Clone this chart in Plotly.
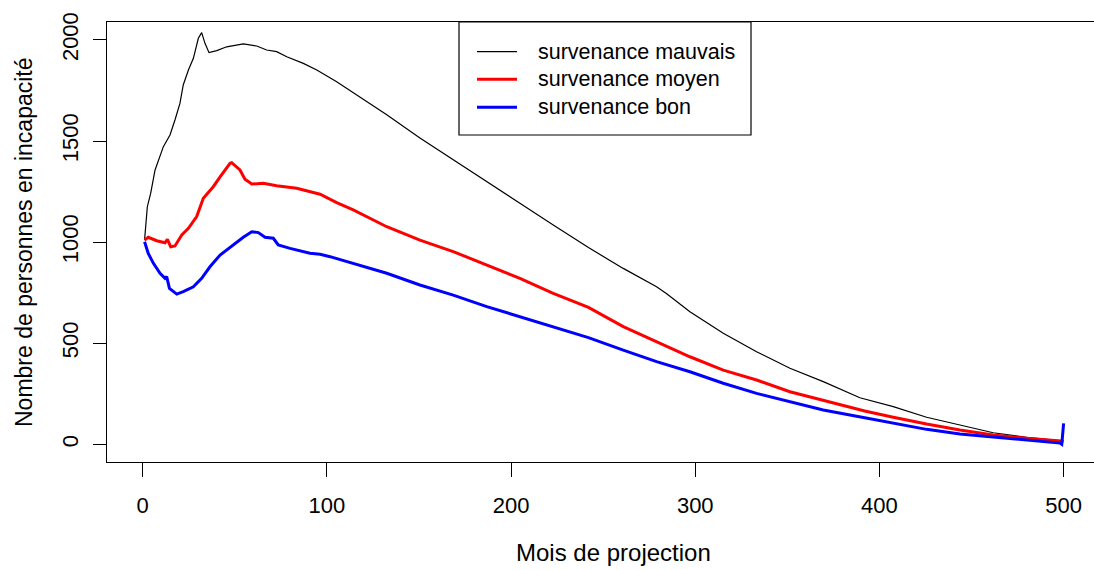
import plotly.graph_objects as go

# ---- data (month, number of people) ----
mois_mauvais = [1, 2.5, 4.3, 6.7, 11.2, 14.8, 17.5, 20.2, 22, 24.8, 27.5, 30.2, 32, 33.8, 36,
                40.2, 45.6, 54.6, 61.9, 67.3, 72.7, 78.2, 87.2, 94.5, 105.3, 114.3, 132.5,
                150.5, 168.6, 186.8, 204.8, 222.9, 242, 260.9, 279, 284.5, 297.1, 315.2,
                333.3, 351.4, 369.5, 389.4, 407.5, 425.6, 443.7, 461.8, 479.9, 498, 500]
val_mauvais = [1010, 1175, 1241, 1357, 1472, 1530, 1604, 1686, 1777, 1851, 1909, 2008, 2036, 1983, 1937,
               1947, 1966, 1980, 1970, 1950, 1942, 1917, 1884, 1851, 1793, 1740, 1630,
               1515, 1406, 1299, 1192, 1085, 973, 870, 779, 745, 656, 549,
               458, 376, 310, 230, 186, 134, 95, 57, 35, 18, 20]

mois_moyen = [1, 3, 7.6, 12.1, 13.4, 15.2, 17.5, 21.2, 24.8, 29.3, 32.9, 38.3, 42, 47.4, 48.3,
              52.8, 55.5, 59.2, 65.5, 72.7, 83.6, 90.8, 96.3, 105.3, 114.3, 132.5, 150.5,
              168.6, 186.8, 204.8, 222.9, 242, 260.9, 279, 297.1, 315.2, 333.3, 351.4,
              369.5, 392, 407.5, 425.6, 443.7, 461.8, 479.9, 498, 500]
val_moyen = [1010, 1024, 1007, 997, 1014, 977, 981, 1035, 1068, 1126, 1217, 1274, 1323, 1390, 1393,
             1357, 1311, 1287, 1291, 1279, 1266, 1249, 1237, 1195, 1159, 1076, 1010,
             953, 887, 821, 747, 677, 582, 507, 433, 367, 318, 260,
             216, 165, 134, 100, 71, 46, 30, 18, 15]

mois_bon = [1, 3, 5.8, 9.4, 12.1, 13, 14.5, 18.5, 22, 27.5, 32, 36.5, 42, 47.4, 54.6, 59.2,
            62.8, 66.4, 70.9, 73.6, 80, 90.8, 96.3, 101.7, 114.3, 132.5, 150.5, 168.6,
            186.8, 204.8, 222.9, 242, 260.9, 279, 297.1, 315.2, 333.3, 351.4, 369.5,
            392, 407.5, 425.6, 443.7, 461.8, 479.9, 498, 499, 500]
val_bon = [1002, 944, 895, 846, 821, 829, 771, 743, 755, 779, 821, 878, 936, 974, 1024, 1051,
           1047, 1024, 1019, 986, 969, 945, 940, 928, 895, 846, 788, 738,
           681, 631, 582, 528, 466, 409, 359, 302, 252, 211, 170,
           131, 104, 74, 51, 35, 21, 6, 0, 104]

series_names = ["survenance mauvais", "survenance moyen", "survenance bon"]
series_colors = ["black", "red", "blue"]
series_widths = [1.2, 3, 3]

x_ticks = [0, 100, 200, 300, 400, 500]
y_ticks = [0, 500, 1000, 1500, 2000]

FONT = "Liberation Sans, Arial, sans-serif"

# ---- geometry (pixels) ----
W, H = 1094, 570
L, T, R, B = 107, 22, 0, 108
px0, px1 = L, W - R
py0, py1 = T, H - B


def pxx(p):
    return (p - px0) / (px1 - px0)


def pyy(p):
    return (py1 - p) / (py1 - py0)


fig = go.Figure()
for xs, ys, name, col, w in zip([mois_mauvais, mois_moyen, mois_bon],
                                [val_mauvais, val_moyen, val_bon],
                                series_names, series_colors, series_widths):
    fig.add_trace(go.Scatter(x=xs, y=ys, mode="lines", name=name,
                             line=dict(color=col, width=w), showlegend=False,
                             hoverinfo="x+y"))

# manual legend (R style box)
shapes = [dict(type="rect", xref="paper", yref="paper",
               x0=pxx(459), x1=pxx(751), y0=pyy(135), y1=pyy(22),
               line=dict(color="black", width=1.2), fillcolor="white", layer="above")]
annotations = []
row_y = [51.7, 79.3, 107.3]
for ry, name, col, w in zip(row_y, series_names, series_colors, series_widths):
    shapes.append(dict(type="line", xref="paper", yref="paper",
                       x0=pxx(477), x1=pxx(517), y0=pyy(ry), y1=pyy(ry),
                       line=dict(color=col, width=w), layer="above"))
    annotations.append(dict(xref="paper", yref="paper", x=pxx(536), y=pyy(ry),
                            xanchor="left", yanchor="middle", text=name, showarrow=False,
                            font=dict(family=FONT, size=21.5, color="black")))

# axis titles
annotations.append(dict(xref="paper", yref="paper", x=pxx(613), y=pyy(552),
                        xanchor="center", yanchor="middle", text="Mois de projection",
                        showarrow=False, font=dict(family=FONT, size=24, color="black")))
annotations.append(dict(xref="paper", yref="paper", x=pxx(24), y=pyy(242),
                        xanchor="center", yanchor="middle",
                        text="Nombre de personnes en incapacité", textangle=-90,
                        showarrow=False, font=dict(family=FONT, size=23, color="black")))

fig.update_layout(
    width=W, height=H,
    margin=dict(l=L, r=R, t=T, b=B, pad=0),
    paper_bgcolor="white", plot_bgcolor="white",
    font=dict(family=FONT, size=22, color="black"),
    shapes=shapes, annotations=annotations,
    xaxis=dict(range=[-19.4, 516.5], tickvals=x_ticks, ticktext=[str(v) for v in x_ticks],
               showgrid=False, zeroline=False, showline=True, linecolor="black", linewidth=1.2,
               mirror=True, ticks="outside", ticklen=14, tickwidth=1.2, tickcolor="black",
               ticklabelstandoff=9, tickfont=dict(family=FONT, size=22, color="black")),
    yaxis=dict(range=[-87.5, 2088.6], tickvals=y_ticks, ticktext=[str(v) for v in y_ticks],
               showgrid=False, zeroline=False, showline=True, linecolor="black", linewidth=1.2,
               mirror=False, ticks="outside", ticklen=13, tickwidth=1.2, tickcolor="black",
               tickangle=-90, ticklabelstandoff=6,
               tickfont=dict(family=FONT, size=22, color="black")),
)

fig.write_html("out.html")
